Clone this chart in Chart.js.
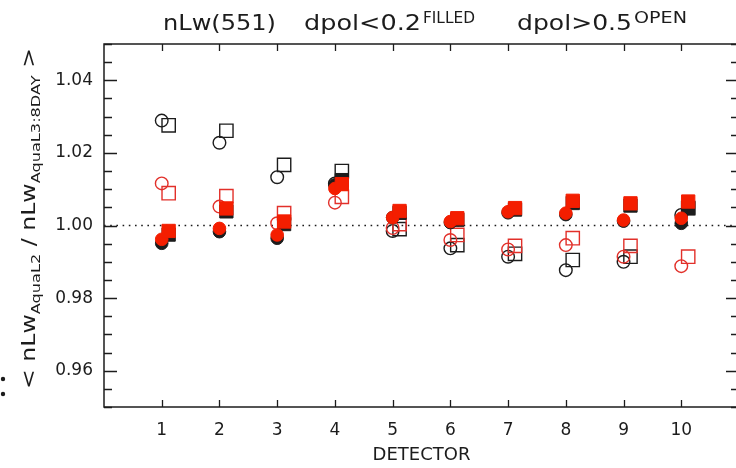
<!DOCTYPE html>
<html>
<head>
<meta charset="utf-8">
<script src="https://cdn.jsdelivr.net/npm/chart.js@4/dist/chart.umd.min.js"></script>
<style>
  html, body { margin: 0; padding: 0; background: #fff; overflow: hidden; }
  #wrap { width: 752px; height: 468px; }
</style>
</head>
<body>
<div id="wrap"><canvas id="c" width="752" height="468"></canvas></div>
<script>
// Detector numbers and labelled y ticks
const detectors = [1, 2, 3, 4, 5, 6, 7, 8, 9, 10];
const yMajorTicks = [0.96, 0.98, 1.00, 1.02, 1.04];
const referenceLevel = 1.00;

// dpol < 0.2 (filled symbols)
const blackFilledCircle = [0.9951, 0.9983, 0.9965, 1.0112, 1.0022, 1.0008, 1.0035, 1.0030, 1.0012, 1.0006];
const blackFilledSquare = [0.9975, 1.0039, 1.0004, 1.0125, 1.0035, 1.0016, 1.0044, 1.0062, 1.0055, 1.0048];
const redFilledCircle   = [0.9962, 0.9992, 0.9974, 1.0102, 1.0022, 1.0011, 1.0038, 1.0034, 1.0015, 1.0020];
const redFilledSquare   = [0.9985, 1.0047, 1.0011, 1.0114, 1.0040, 1.0020, 1.0048, 1.0068, 1.0061, 1.0066];

// dpol > 0.5 (open symbols)
const blackOpenCircle = [1.0289, 1.0228, 1.0133, 1.0116, 0.9985, 0.9937, 0.9914, 0.9877, 0.9900, 1.0029];
const blackOpenSquare = [1.0276, 1.0261, 1.0167, 1.0150, 0.9990, 0.9946, 0.9922, 0.9905, 0.9914, 1.0048];
const redOpenCircle   = [1.0116, 1.0052, 1.0006, 1.0063, 0.9993, 0.9960, 0.9934, 0.9946, 0.9914, 0.9888];
const redOpenSquare   = [1.0089, 1.0081, 1.0034, 1.0079, 1.0004, 0.9974, 0.9944, 0.9965, 0.9944, 0.9914];

const FONT = '"DejaVu Sans", sans-serif';
const INK = '#1c1c1c';
const RED = '#f41e00';
const RED_LINE = '#e2302a';
const CIRCLE_SHIFT = 0.0;
const SQUARE_SHIFT = 0.12;

function points(values, shift) {
  return detectors.map((d, i) => ({ x: d + shift, y: values[i] }));
}

function symbolSet(label, values, shape, color, filled, order) {
  const isSquare = shape === 'rect';
  return {
    type: 'scatter',
    label,
    data: points(values, isSquare ? SQUARE_SHIFT : CIRCLE_SHIFT),
    pointStyle: shape,
    pointRadius: isSquare ? 9.4 : 6.3,
    pointHoverRadius: isSquare ? 9.4 : 6.3,
    backgroundColor: filled ? color : 'rgba(0,0,0,0)',
    borderColor: color === RED ? (filled ? RED : RED_LINE) : INK,
    borderWidth: filled ? 1 : 1.4,
    order
  };
}

const isMajor = v => yMajorTicks.some(m => Math.abs(m - v) < 1e-6);

// Draws text stretched so that it runs from x0 to x1 on the given baseline
function drawFitted(ctx, text, size, x0, x1, baseline) {
  ctx.font = size + 'px ' + FONT;
  const w = ctx.measureText(text).width;
  ctx.save();
  ctx.translate(x0, baseline);
  ctx.scale((x1 - x0) / w, 1);
  ctx.fillText(text, 0, 0);
  ctx.restore();
}

// Title pieces: text, font size, start x, end x, baseline y
const titleRuns = [
  ['nLw(551)', 21, 163, 276, 30],
  ['dpol<0.2', 21, 304, 421, 30],
  ['FILLED',   15, 423, 475, 23],
  ['dpol>0.5', 21, 517, 632, 30],
  ['OPEN',     15, 634, 687, 23]
];

// Vertical axis title: runs of [text, kind], kind 'n' normal or 'sub' subscript
const yTitleRuns = [['< nLw', 'n'], ['AquaL2', 'sub'], [' / nLw', 'n'], ['AquaL3:8DAY', 'sub'], [' >', 'n']];
const Y_TITLE_SIZE = 19, Y_SUB_SIZE = 13;

const framePlugin = {
  id: 'frame',
  afterDraw(chart) {
    const { ctx, chartArea: a, scales } = chart;
    const xs = scales.x, ys = scales.y;
    ctx.save();
    ctx.strokeStyle = INK;
    ctx.lineWidth = 1.5;
    ctx.strokeRect(a.left, a.top, a.right - a.left, a.bottom - a.top);

    // inward ticks on left and right edges
    ctx.lineWidth = 1.3;
    ys.ticks.forEach(t => {
      const y = Math.round(ys.getPixelForValue(t.value)) + 0.5;
      const len = isMajor(t.value) ? 13 : 8;
      ctx.beginPath();
      ctx.moveTo(a.left, y); ctx.lineTo(a.left + len, y);
      ctx.moveTo(a.right, y); ctx.lineTo(a.right - len, y);
      ctx.stroke();
    });
    // inward ticks on bottom and top edges
    detectors.forEach(d => {
      const x = Math.round(xs.getPixelForValue(d)) + 0.5;
      ctx.beginPath();
      ctx.moveTo(x, a.bottom); ctx.lineTo(x, a.bottom - 7);
      ctx.moveTo(x, a.top); ctx.lineTo(x, a.top + 7);
      ctx.stroke();
    });

    ctx.fillStyle = INK;
    ctx.textBaseline = 'alphabetic';
    ctx.textAlign = 'left';

    titleRuns.forEach(([t, size, x0, x1, base]) => drawFitted(ctx, t, size, x0, x1, base));

    // x axis title
    ctx.font = '18px ' + FONT;
    ctx.textAlign = 'center';
    ctx.fillText('DETECTOR', (xs.getPixelForValue(5) + xs.getPixelForValue(6)) / 2, 460);
    ctx.textAlign = 'left';

    // rotated y axis title, stretched to span from y=389 up to y=48
    let total = 0;
    yTitleRuns.forEach(([t, kind]) => {
      ctx.font = (kind === 'n' ? Y_TITLE_SIZE : Y_SUB_SIZE) + 'px ' + FONT;
      total += ctx.measureText(t).width;
    });
    const bottom = 389, top = 48;
    ctx.save();
    ctx.translate(35, bottom);
    ctx.rotate(-Math.PI / 2);
    ctx.scale((bottom - top) / total, 1);
    let pos = 0;
    yTitleRuns.forEach(([t, kind]) => {
      ctx.font = (kind === 'n' ? Y_TITLE_SIZE : Y_SUB_SIZE) + 'px ' + FONT;
      ctx.fillText(t, pos, kind === 'sub' ? 5 : 0);
      pos += ctx.measureText(t).width;
    });
    ctx.restore();

    // colon mark at the left edge
    ctx.beginPath();
    ctx.arc(3, 379, 2.2, 0, Math.PI * 2);
    ctx.arc(3, 394, 2.2, 0, Math.PI * 2);
    ctx.fill();
    ctx.restore();
  }
};

new Chart(document.getElementById('c'), {
  data: {
    datasets: [
      {
        type: 'line',
        label: 'reference',
        data: [{ x: 0, y: referenceLevel }, { x: 11, y: referenceLevel }],
        borderColor: INK,
        borderWidth: 1.6,
        borderDash: [1.6, 4.6],
        pointRadius: 0,
        order: 20
      },
      symbolSet('black open circle', blackOpenCircle, 'circle', INK, false, 8),
      symbolSet('black open square', blackOpenSquare, 'rect', INK, false, 7),
      symbolSet('red open circle', redOpenCircle, 'circle', RED, false, 6),
      symbolSet('red open square', redOpenSquare, 'rect', RED, false, 5),
      symbolSet('black filled circle', blackFilledCircle, 'circle', INK, true, 4),
      symbolSet('black filled square', blackFilledSquare, 'rect', INK, true, 3),
      symbolSet('red filled circle', redFilledCircle, 'circle', RED, true, 2),
      symbolSet('red filled square', redFilledSquare, 'rect', RED, true, 1)
    ]
  },
  options: {
    responsive: false,
    animation: false,
    devicePixelRatio: 1,
    layout: { padding: { left: 0, top: 44, right: 7, bottom: 0 } },
    plugins: { legend: { display: false }, tooltip: { enabled: false } },
    scales: {
      x: {
        type: 'linear',
        min: 0,
        max: 11,
        grid: { display: false, drawTicks: false },
        border: { display: false },
        ticks: {
          stepSize: 1,
          padding: 13,
          color: INK,
          font: { family: FONT, size: 17 },
          maxRotation: 0,
          autoSkip: false,
          callback: v => (detectors.includes(v) ? String(v) : '')
        },
        afterFit: s => { s.height = 61; }
      },
      y: {
        type: 'linear',
        min: 0.95,
        max: 1.05,
        grid: { display: false, drawTicks: false },
        border: { display: false },
        ticks: {
          stepSize: 0.005,
          maxTicksLimit: 100,
          padding: 11,
          color: INK,
          font: { family: FONT, size: 17 },
          autoSkip: false,
          callback: v => (isMajor(v) ? v.toFixed(2) : '')
        },
        afterFit: s => { s.width = 104; }
      }
    }
  },
  plugins: [framePlugin]
});
</script>
</body>
</html>
